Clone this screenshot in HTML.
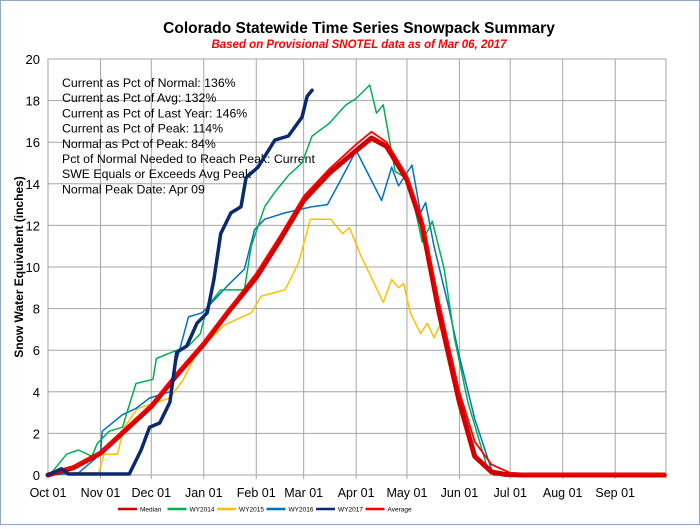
<!DOCTYPE html>
<html><head><meta charset="utf-8"><style>
body{margin:0;background:#fff;}
#c{position:relative;width:700px;height:525px;box-sizing:border-box;border:1px solid #8fa9cc;background:#fff;font-family:"Liberation Sans",sans-serif;}
</style></head><body>
<div id="c">
<svg id="s" width="698" height="523" xmlns="http://www.w3.org/2000/svg" font-family="Liberation Sans, sans-serif"></svg>
</div>
<script>
const monthLabels=["Oct 01","Nov 01","Dec 01","Jan 01","Feb 01","Mar 01","Apr 01","May 01","Jun 01","Jul 01","Aug 01","Sep 01"];
const monthDays=[0,31,61,92,123,151,182,212,243,273,304,335];
const yTicks=[0,2,4,6,8,10,12,14,16,18,20];
const statsLines=["Current  as Pct of Normal:  136%","Current  as Pct of Avg:  132%","Current  as Pct of Last Year:  146%","Current  as Pct of Peak:  114%","Normal  as Pct of Peak:  84%","Pct of Normal Needed  to Reach Peak:  Current","SWE Equals  or Exceeds Avg Peak","Normal Peak Date:  Apr 09"];
const medianDays=[0,15,31,45,61,76,92,107,123,137,151,166,182,191,200,212,221,231,243,252,262,270,280,364];
const medianVals=[0,0.35,1.05,2.1,3.3,4.8,6.3,7.9,9.5,11.3,13.2,14.5,15.6,16.2,15.8,14.2,12.0,7.8,3.5,0.9,0.15,0.03,0,0];
const averageDays=[0,15,31,45,61,76,92,107,123,137,151,166,182,191,200,212,221,231,243,252,262,273,285,364];
const averageVals=[0,0.4,1.1,2.2,3.4,4.9,6.4,8.0,9.7,11.5,13.4,14.7,15.9,16.5,16.0,14.4,12.3,8.3,4.0,1.6,0.5,0.1,0.05,0.05];
const wy2014Days=[0,3,11,18,26,29,36,44,47,52,62,64,73,83,90,94,102,116,120,128,134,142,150,156,166,176,182,190,194,198,205,213,221,227,234,240,248,260,270];
const wy2014Vals=[0,0.2,1.0,1.2,0.9,1.5,2.1,2.3,3.1,4.4,4.6,5.6,5.9,6.2,6.8,8.1,8.9,8.9,11.0,12.9,13.6,14.4,15.0,16.3,16.9,17.8,18.1,18.75,17.4,17.8,14.6,14.2,11.2,12.2,9.9,6.6,3.5,0.2,0];
const wy2015Days=[0,30,33,41,45,53,72,80,88,104,120,126,140,148,155,167,171,174,178,185,191,198,203,207,210,214,220,224,228,232,240,243,252,262,273];
const wy2015Vals=[0.1,0.1,1.0,1.0,2.3,3.2,3.7,4.6,5.9,7.2,7.8,8.6,8.9,10.2,12.3,12.3,11.9,11.6,11.9,10.5,9.5,8.3,9.4,9.0,9.2,7.8,6.8,7.3,6.6,7.3,5.0,3.8,1.0,0,0];
const wy2016Days=[0,18,31,32,44,52,60,72,76,83,91,98,106,116,122,128,140,156,165,173,182,197,203,207,215,220,223,228,236,243,252,263,273];
const wy2016Vals=[0,0.1,1.0,2.1,2.9,3.2,3.7,4.0,5.5,7.6,7.8,8.4,9.1,9.9,11.8,12.3,12.6,12.9,13.0,14.2,15.6,13.2,14.8,13.9,14.9,12.6,13.1,11.0,8.3,5.7,2.7,0,0];
const wy2017Days=[0,8,12,30,48,55,60,66,72,76,82,88,94,98,102,108,114,117,124,134,142,150,153,156];
const wy2017Vals=[0,0.3,0.05,0.05,0.05,1.2,2.3,2.5,3.5,5.9,6.2,7.3,7.8,9.4,11.6,12.6,12.9,14.3,14.8,16.1,16.3,17.2,18.2,18.5];

const NS="http://www.w3.org/2000/svg";
const svg=document.getElementById('s');
const X0=47,X1=665,Y0=474,Y1=58;
const xs=d=>X0+d*(X1-X0)/365;
const ys=v=>Y0-v*(Y0-Y1)/20;
function mk(t,a){const e=document.createElementNS(NS,t);for(const k in a)e.setAttribute(k,a[k]);svg.appendChild(e);return e;}
yTicks.forEach(v=>{const l=mk('line',{x1:X0,x2:X1,y1:ys(v),y2:ys(v),stroke:'#a6a6a6','stroke-width':1});

const t=mk('text',{x:X0-8,y:ys(v)+5,'text-anchor':'end','font-size':13,fill:'#000'});t.textContent=v;
});
monthDays.concat([365]).forEach(d=>{const l=mk('line',{x1:xs(d),x2:xs(d),y1:Y1,y2:Y0+4,stroke:'#a6a6a6','stroke-width':1});
});
monthLabels.forEach((m,i)=>{const t=mk('text',{x:xs(monthDays[i]),y:Y0+22,'text-anchor':'middle','font-size':12.5,fill:'#000'});t.textContent=m;
});
const ax=mk('rect',{x:X0,y:Y1,width:X1-X0,height:Y0-Y1,fill:'none',stroke:'#a6a6a6'});

statsLines.forEach((s,i)=>{const t=mk('text',{x:61,y:86+i*15.2,'font-size':12.3,fill:'#000'});t.textContent=s;t.setAttribute('xml:space','preserve');
});
function series(days,vals,color,w,name){const p=days.map((d,i)=>xs(d).toFixed(1)+','+ys(vals[i]).toFixed(1)).join(' ');
const e=mk('polyline',{points:p,fill:'none',stroke:color,'stroke-width':w,'stroke-linejoin':'round','stroke-linecap':'round'});
}
series(wy2015Days,wy2015Vals,'#ffc000',1.5,'wy2015-line');
series(wy2016Days,wy2016Vals,'#0070c0',1.5,'wy2016-line');
series(wy2014Days,wy2014Vals,'#00b050',1.5,'wy2014-line');
series(medianDays,medianVals,'#d00000',5,'median-line');
series(averageDays,averageVals,'#ff0000',1.8,'average-line');
series(wy2017Days,wy2017Vals,'#0b2a6e',3.5,'wy2017-line');
let t=mk('text',{x:358,y:32,'text-anchor':'middle','font-size':15.5,'font-weight':'bold',fill:'#000'});t.textContent='Colorado Statewide Time Series Snowpack Summary';

t=mk('text',{x:358,y:47,'text-anchor':'middle','font-size':11.5,'font-weight':'bold','font-style':'italic',fill:'#ff0000'});t.textContent='Based on Provisional SNOTEL data as of Mar 06, 2017';

t=mk('text',{x:0,y:0,'text-anchor':'middle','font-size':12,'font-weight':'bold',fill:'#000',transform:'translate(22,266) rotate(-90)'});t.textContent='Snow Water Equivalent (inches)';

const legNames=["Median","WY2014","WY2015","WY2016","WY2017","Average"];
const legColors=['#d00000','#00b050','#ffc000','#0070c0','#0b2a6e','#ff0000'];
legNames.forEach((n,i)=>{const lx=117+i*49.5;
const l=mk('line',{x1:lx,x2:lx+19,y1:508,y2:508,stroke:legColors[i],'stroke-width':2.5});

const tt=mk('text',{x:lx+22,y:510.5,'font-size':6.5,fill:'#000'});tt.textContent=n;
});
</script>
</body></html>
